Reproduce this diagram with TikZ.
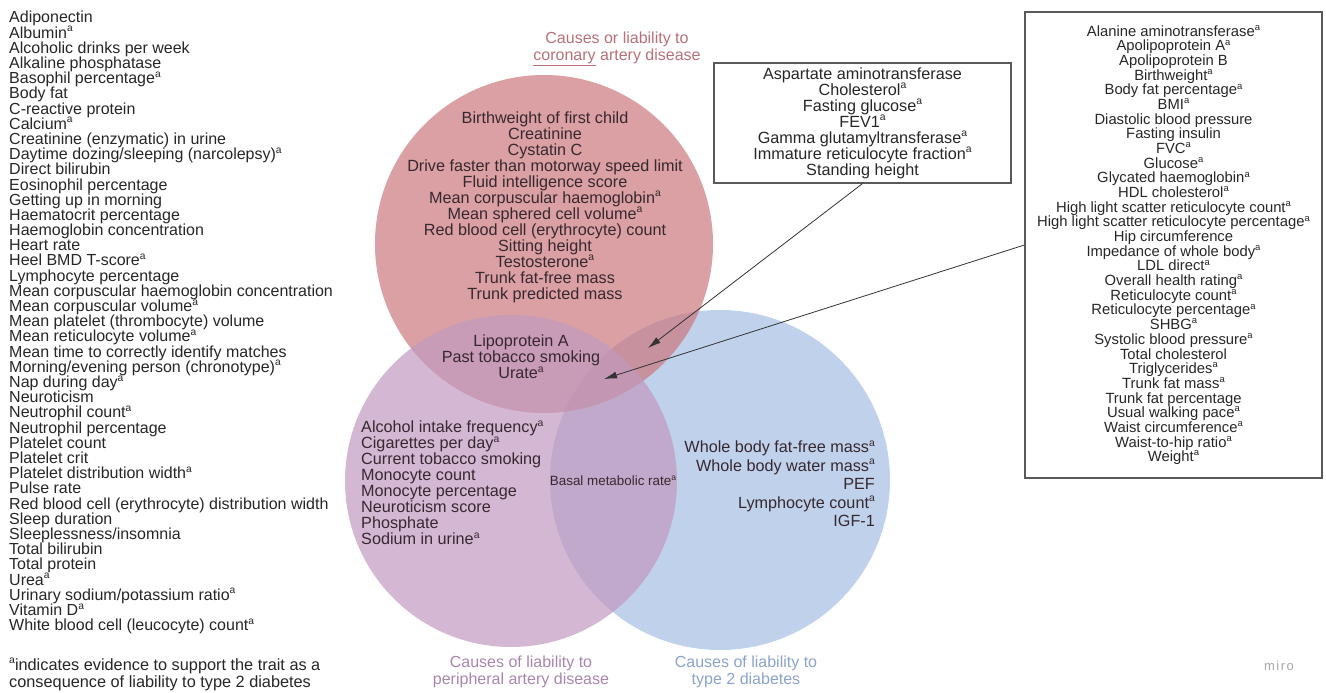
\documentclass[tikz,border=0pt]{standalone}
\usepackage{fontspec}
\setmainfont{Liberation Sans}
\usetikzlibrary{arrows.meta}
\definecolor{cadred}{RGB}{202,119,124}
\definecolor{padpurple}{RGB}{194,153,191}
\definecolor{tdblue}{RGB}{165,191,226}
\definecolor{cadtext}{RGB}{184,112,120}
\definecolor{padtext}{RGB}{168,134,172}
\definecolor{tdtext}{RGB}{140,163,204}
\definecolor{bodytext}{RGB}{55,40,48}
\newcommand{\sa}{\raisebox{0.4em}{\scalebox{0.64}{a}}}
\newcommand{\tightlines}{\lineskiplimit=-4pt\relax}

\begin{document}
\begin{tikzpicture}[x=1pt, y=-1pt,
  venn/.style={fill opacity=0.7, draw=none},
  plain/.style={inner sep=0pt, text=black!85, font=\fontsize{16}{15.2}\selectfont\tightlines},
  inset/.style={inner sep=0pt, text=bodytext, font=\fontsize{16.2}{16}\selectfont\tightlines},
  setlabel/.style={inner sep=0pt, align=center, font=\fontsize{16}{17.5}\selectfont},
  listbox/.style={draw=black!65, line width=1.2pt, inner sep=0pt, align=center, text=black!85},
  pointer/.style={draw=black!80, line width=0.8pt, -{Latex[length=13pt,width=7pt]}}]

  \useasboundingbox (0,0) rectangle (1326,693);

  %% the three sets
  \fill[venn, tdblue] (720,480) circle (170);
  \fill[venn, cadred] (544,244) circle (169);
  \fill[venn, padpurple] (511,481) circle (166);

  %% set names
  \node[setlabel, text=cadtext] (cadname) at (617,49)
    {Causes or liability to\\\underline{coronary} artery disease};
  \node[setlabel, text=padtext] (padname) at (521,672)
    {Causes of liability to\\peripheral artery disease};
  \node[setlabel, text=tdtext] (tdname) at (746,672)
    {Causes of liability to\\type 2 diabetes};

  %% traits in the sets
  \node[inset, align=center] (cadonly) at (545,207)
    {Birthweight of first child\\Creatinine\\Cystatin C\\
     Drive faster than motorway speed limit\\Fluid intelligence score\\
     Mean corpuscular haemoglobin\sa\\Mean sphered cell volume\sa\\
     Red blood cell (erythrocyte) count\\Sitting height\\Testosterone\sa\\
     Trunk fat-free mass\\Trunk predicted mass};
  \node[inset, align=center] (cadpad) at (521,357)
    {Lipoprotein A\\Past tobacco smoking\\Urate\sa};
  \node[inset, align=left, anchor=west] (padonly) at (361,483)
    {Alcohol intake frequency\sa\\Cigarettes per day\sa\\Current tobacco smoking\\
     Monocyte count\\Monocyte percentage\\Neuroticism score\\Phosphate\\
     Sodium in urine\sa};
  \node[inset, font=\fontsize{13.4}{14}\selectfont] (padtd) at (613,481)
    {Basal metabolic rate\sa};
  \node[inset, align=right, anchor=east, font=\fontsize{16.2}{18.5}\selectfont] (tdonly) at (875,484)
    {Whole body fat-free mass\sa\\Whole body water mass\sa\\PEF\\
     Lymphocyte count\sa\\IGF-1};

  %% boxes for the shared traits
  \node[listbox, minimum width=297, minimum height=120, font=\fontsize{16.2}{16}\selectfont\tightlines] (allthree) at (862.5,123)
    {Aspartate aminotransferase\\Cholesterol\sa\\Fasting glucose\sa\\FEV1\sa\\
     Gamma glutamyltransferase\sa\\Immature reticulocyte fraction\sa\\Standing height};
  \node[listbox, minimum width=297, minimum height=466, font=\fontsize{14.8}{14.67}\selectfont\tightlines] (cadtd) at (1173.5,245)
    {Alanine aminotransferase\sa\\Apolipoprotein A\sa\\Apolipoprotein B\\Birthweight\sa\\
     Body fat percentage\sa\\BMI\sa\\Diastolic blood pressure\\Fasting insulin\\FVC\sa\\
     Glucose\sa\\Glycated haemoglobin\sa\\HDL cholesterol\sa\\
     High light scatter reticulocyte count\sa\\High light scatter reticulocyte percentage\sa\\
     Hip circumference\\Impedance of whole body\sa\\LDL direct\sa\\Overall health rating\sa\\
     Reticulocyte count\sa\\Reticulocyte percentage\sa\\SHBG\sa\\Systolic blood pressure\sa\\
     Total cholesterol\\Triglycerides\sa\\Trunk fat mass\sa\\Trunk fat percentage\\
     Usual walking pace\sa\\Waist circumference\sa\\Waist-to-hip ratio\sa\\Weight\sa};

  \coordinate (tipall) at (648,348);
  \coordinate (tipcadtd) at (604,379);
  \draw[pointer] (allthree.south) -- (tipall); %% box -> centre
  \draw[pointer] (cadtd.west) -- (tipcadtd); %% box -> CAD and T2D

  %% traits outside the sets
  \node[plain, align=left, anchor=north west] (outside) at (9,11)
    {Adiponectin\\Albumin\sa\\Alcoholic drinks per week\\Alkaline phosphatase\\
     Basophil percentage\sa\\Body fat\\C-reactive protein\\Calcium\sa\\
     Creatinine (enzymatic) in urine\\Daytime dozing/sleeping (narcolepsy)\sa\\
     Direct bilirubin\\Eosinophil percentage\\Getting up in morning\\
     Haematocrit percentage\\Haemoglobin concentration\\Heart rate\\
     Heel BMD T-score\sa\\Lymphocyte percentage\\
     Mean corpuscular haemoglobin concentration\\Mean corpuscular volume\sa\\
     Mean platelet (thrombocyte) volume\\Mean reticulocyte volume\sa\\
     Mean time to correctly identify matches\\Morning/evening person (chronotype)\sa\\
     Nap during day\sa\\Neuroticism\\Neutrophil count\sa\\Neutrophil percentage\\
     Platelet count\\Platelet crit\\Platelet distribution width\sa\\Pulse rate\\
     Red blood cell (erythrocyte) distribution width\\Sleep duration\\
     Sleeplessness/insomnia\\Total bilirubin\\Total protein\\Urea\sa\\
     Urinary sodium/potassium ratio\sa\\Vitamin D\sa\\White blood cell (leucocyte) count\sa};
  \node[plain, align=left, anchor=north west, font=\fontsize{16.3}{17}\selectfont] (footnote) at (9,658)
    {\sa indicates evidence to support the trait as a\\consequence of liability to type 2 diabetes};

  \node[inner sep=0pt, text=black!35, font=\fontsize{13}{13}\addfontfeature{LetterSpace=12}\selectfont] (miro) at (1279,666) {miro};

\end{tikzpicture}
\end{document}
